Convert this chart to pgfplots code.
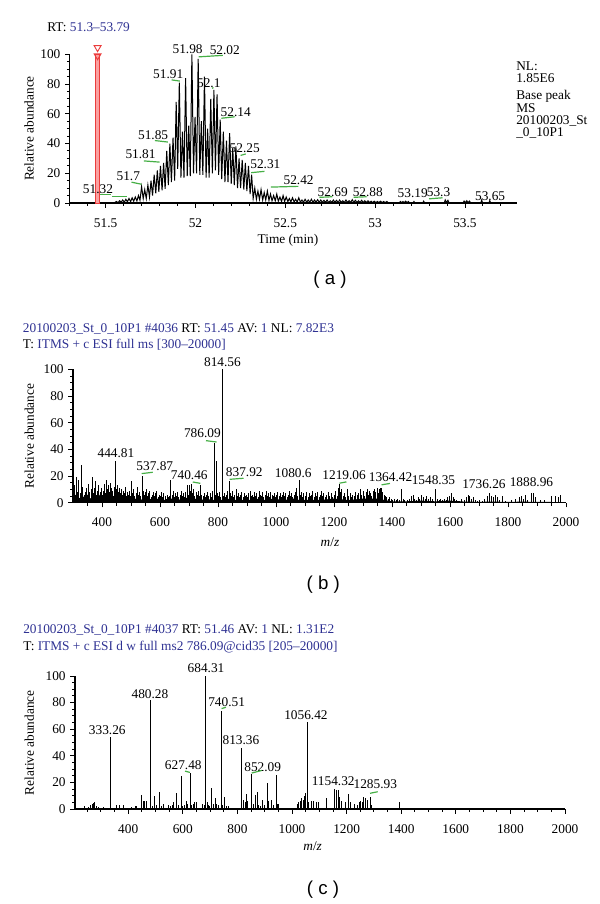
\documentclass[border=0pt]{standalone}
\usepackage{fontspec}
\setmainfont{Liberation Serif}
\newfontfamily\arialfont{Liberation Sans}
\usepackage{pgfplots}
\pgfplotsset{compat=1.18}
\definecolor{hdrblue}{RGB}{46,49,146}
\definecolor{lblgreen}{RGB}{70,175,70}
\definecolor{mkred}{RGB}{235,60,60}
\definecolor{mkpink}{RGB}{250,160,160}
\tikzset{glab/.style={lblgreen, line width=0.9pt}}
\pgfplotsset{msaxis/.style={scale only axis, axis x line=bottom, axis y line=left,
  axis line style={-, line width=0.9pt}, tick align=outside,
  major tick length=3.5pt, minor tick length=2.2pt,
  every tick/.style={black, line width=0.7pt},
  ymin=0, ymax=100, ytick={0,20,...,100}, minor ytick={5,10,...,95},
  tick label style={font=\fontsize{10}{12}\selectfont},
  xticklabel style={yshift=-4.5pt},
  /pgf/number format/assume math mode=true,
  /pgf/number format/1000 sep={},
  enlargelimits=false, clip=false,
  every node/.append style={font=\fontsize{10}{12}\selectfont}}}
\begin{document}
\begin{tikzpicture}
\path[use as bounding box] (0,0) rectangle (450pt,678pt);
% ---------------- panel (a) ----------------
\begin{axis}[msaxis, at={(52.3pt,525.75pt)}, anchor=south west,
  width=335.5pt, height=111.5pt, xmin=51.3, xmax=53.79,
  xtick={51.5,52,52.5,53,53.5},
  minor xtick={51.3,51.4,51.6,51.7,51.8,51.9,52.1,52.2,52.3,52.4,52.6,52.7,52.8,52.9,53.1,53.2,53.3,53.4,53.6,53.7},
  unbounded coords=jump]
\draw[mkred, fill=mkpink, line width=0.7pt] (axis cs:51.444,0) rectangle (axis cs:51.466,100);
\addplot[only marks, mark=triangle, mark size=3pt, mkred, mark options={rotate=180, fill=white, line width=0.7pt}] coordinates {(51.455,104.5) (51.455,99)};
\addplot[black, line width=0.75pt] coordinates {
(51.54,0) (51.55,0.3)
(51.560,1) (51.569,0.3) (51.5775,1.5) (51.586,0.5) (51.595,2) (51.604,0.6)
(51.6125,2.5) (51.621,0.8) (51.630,3) (51.639,1) (51.6475,3.5) (51.656,1.2)
(51.665,4) (51.674,1.4) (51.6825,5) (51.691,1.8) (51.700,11) (51.709,3)
(51.7175,9) (51.726,3) (51.735,12) (51.744,4) (51.7525,15) (51.761,5)
(51.770,19) (51.779,6.5) (51.7875,22) (51.796,7.5) (51.805,25) (51.814,8.5)
(51.8225,27) (51.831,9.5) (51.840,35) (51.849,12) (51.8575,40) (51.866,14)
(51.875,44) (51.884,15) (51.8925,68) (51.901,23) (51.910,81) (51.919,17)
(51.9275,48) (51.936,17) (51.945,84) (51.954,18) (51.9625,52) (51.971,18)
(51.980,100) (51.989,20) (51.9975,58) (52.006,20) (52.015,97) (52.024,19)
(52.0325,55) (52.041,19) (52.050,85) (52.059,17) (52.0675,50) (52.076,17)
(52.085,70) (52.094,20) (52.1025,76) (52.111,22) (52.120,73) (52.129,19)
(52.1375,56) (52.146,16) (52.155,48) (52.164,14) (52.1725,42) (52.181,14)
(52.190,47) (52.199,13) (52.2075,37) (52.216,12) (52.225,38) (52.234,10)
(52.2425,30) (52.251,10) (52.260,29) (52.269,9) (52.2775,27) (52.286,8)
(52.295,25) (52.304,6) (52.3125,19) (52.321,3) (52.330,10) (52.339,2.5)
(52.3475,8) (52.356,2.5) (52.365,9) (52.374,2) (52.3825,7) (52.391,2)
(52.400,8) (52.409,1.8) (52.4175,6) (52.426,1.5) (52.435,5) (52.444,1.5)
(52.4525,6) (52.461,1.2) (52.470,4) (52.479,1) (52.4875,5) (52.496,1)
(52.505,4) (52.514,1) (52.5225,3) (52.531,0.8)
(52.540,3.5) (52.549,0.7) (52.5575,2.5) (52.566,0.6) (52.575,3.5) (52.584,0.6)
(52.5925,2) (52.601,0.5) (52.610,2.5) (52.619,0.5) (52.6275,2) (52.636,0.5)
(52.645,2.5) (52.654,0.5) (52.6625,2) (52.671,0.5) (52.680,2.2) (52.689,0.5)
(52.6975,2) (52.706,0.5) (52.715,1.8) (52.724,0.4) (52.7325,2) (52.741,0.4)
(52.750,1.5) (52.759,0.4) (52.7675,2) (52.776,0.4) (52.785,1.8) (52.794,0.4)
(52.8025,2) (52.811,0.4) (52.820,1.5) (52.829,0.4) (52.8375,2) (52.846,0.4)
(52.855,1.5) (52.864,0.4) (52.8725,2.2) (52.881,0.4) (52.890,1.8) (52.899,0.4)
(52.9075,1.5) (52.916,0.4) (52.925,1.8) (52.934,0.3) (52.9425,1.5) (52.951,0.3)
(52.960,1.5) (52.969,0.3) (52.9775,1.2) (52.986,0.3) (52.995,1.2) (53.004,0.3)
(53.0125,1) (53.021,0.3) (53.030,1.2) (53.039,0.3) (53.0475,1) (53.056,0.2)
(53.065,1) (53.074,0) (53.1,nan)
(53.135,0) (53.14,1) (53.147,0.2) (53.155,1) (53.162,0.2) (53.17,1.2) (53.177,0.2) (53.185,1) (53.192,0) (53.2,nan)
(53.21,0) (53.216,1) (53.222,0) (53.24,nan)
(53.265,0) (53.27,1.2) (53.276,0) (53.3,nan)
(53.385,0) (53.39,2) (53.397,0.3) (53.405,1.8) (53.412,0) (53.45,nan)
(53.49,0) (53.495,1.3) (53.502,0.2) (53.51,1.5) (53.517,0.2) (53.525,1.3) (53.532,0) (53.56,nan)
(53.588,0) (53.593,2) (53.598,0) (53.62,nan)
(53.633,0) (53.638,1.5) (53.643,0)};
\node at (axis cs:51.457,9.2) {51.32};
\draw[glab] (axis cs:51.468,5.6) -- (axis cs:51.53,5.6) (axis cs:51.535,4.6) -- (axis cs:51.62,4.6);
\node at (axis cs:51.626,17.7) {51.7};
\draw[glab] (axis cs:51.644,14) -- (axis cs:51.70,12.6);
\node at (axis cs:51.694,32.7) {51.81};
\draw[glab] (axis cs:51.713,28.3) -- (axis cs:51.80,27.5);
\node at (axis cs:51.764,45.6) {51.85};
\draw[glab] (axis cs:51.774,42) -- (axis cs:51.846,41);
\node at (axis cs:51.848,86.6) {51.91};
\draw[glab] (axis cs:51.867,82.8) -- (axis cs:51.913,82);
\node at (axis cs:51.956,103.8) {51.98};
\node at (axis cs:52.163,102.7) {52.02};
\draw[glab] (axis cs:52.018,98.3) -- (axis cs:52.152,99.3);
\node at (axis cs:52.074,80.7) {52.1};
\draw[glab] (axis cs:52.092,77.2) -- (axis cs:52.1,77.6);
\node at (axis cs:52.224,60.9) {52.14};
\draw[glab] (axis cs:52.144,57) -- (axis cs:52.218,58);
\node at (axis cs:52.274,36.7) {52.25};
\draw[glab] (axis cs:52.251,32) -- (axis cs:52.28,33);
\node at (axis cs:52.389,26) {52.31};
\draw[glab] (axis cs:52.31,20.4) -- (axis cs:52.384,21.3);
\node at (axis cs:52.574,15.4) {52.42};
\draw[glab] (axis cs:52.42,10.7) -- (axis cs:52.572,11.2);
\node at (axis cs:52.764,7.6) {52.69};
\draw[glab] (axis cs:52.69,3.8) -- (axis cs:52.762,4.2);
\node at (axis cs:52.959,7.6) {52.88};
\draw[glab] (axis cs:52.88,3.8) -- (axis cs:52.953,4.2);
\node at (axis cs:53.209,6.5) {53.19};
\node at (axis cs:53.353,7.6) {53.3};
\draw[glab] (axis cs:53.30,2.8) -- (axis cs:53.375,3.5);
\node at (axis cs:53.64,4.9) {53.65};
\end{axis}
% ---------------- panel (b) ----------------
\begin{axis}[msaxis, at={(54.75pt,301pt)}, anchor=south west,
  width=369.75pt, height=100pt, xmin=300, xmax=2000,
  xtick={400,600,...,2000}, minor xtick={350,400,...,1950}]
\addplot[fill=black, draw=none] coordinates {
(300,0) (300,4) (310,6) (320,3) (330,5) (340,4) (350,6) (360,3) (370,5) (380,4) (390,6)
(400,3) (410,5) (420,6) (430,4) (440,5) (450,6) (460,4) (470,5) (480,3) (490,4)
(500,3) (510,4) (520,2) (530,3) (540,2) (550,3) (560,2) (570,3) (580,2) (590,3)
(600,2) (620,2) (640,3) (660,2) (680,3) (700,4) (720,3) (740,2) (760,3) (780,2)
(800,2) (820,2) (840,3) (860,2) (880,2) (900,2) (920,2) (940,3) (960,2) (980,3)
(1000,2) (1020,3) (1040,2) (1060,3) (1080,2) (1100,2) (1150,2) (1200,3) (1250,2)
(1300,3) (1350,3) (1400,1) (1450,1) (1500,1.5) (1550,1) (1600,1.5) (1650,0.8)
(1700,0.6) (1750,0.8) (1800,0.5) (1850,0.8) (1900,0.5) (1950,0.5) (1990,0.3) (1990,0)} \closedcycle;
\addplot[ycomb, black, line width=0.55pt] coordinates {
(302,10) (305,13) (308,6) (311,19) (314,8) (317,12) (320,17) (324,7) (328,28) (331,9)
(334,12) (338,6) (341,8) (345,11) (348,5) (352,14) (355,8) (358,6) (362,10) (366,19)
(369,7) (372,11) (376,16) (379,6) (383,9) (386,13) (390,5) (393,8) (397,11)
(401,6) (405,9) (408,14) (412,7) (416,17) (419,10) (423,13) (426,8) (430,15) (433,11)
(437,9) (441,12) (444.81,31) (448,10) (452,13) (455,8) (459,11) (462,7) (466,10) (470,6)
(473,9) (477,7) (480,12) (484,5) (487,8) (491,6) (495,9) (498,5)
(502,16) (505,7) (509,10) (513,5) (517,7) (521,12) (525,6) (529,8) (533,5) (537.87,20)
(541,9) (545,6) (549,8) (553,10) (557,5) (561,7) (565,9) (569,4) (573,6) (577,8)
(581,5) (585,7) (589,9) (593,4) (597,6)
(601,5) (605,8) (609,4) (613,7) (617,5) (621,3) (625,6) (629,4) (633,5) (637,17)
(641,6) (645,9) (649,4) (653,7) (657,5) (661,8) (665,4) (669,6) (673,9) (677,5)
(681,7) (685,4) (689,8) (693,13) (697,6) (700,13)
(704,9) (708,14) (712,7) (716,10) (720,5) (724,8) (728,6) (732,9) (736,5) (740.46,13)
(744,6) (748,5) (752,7) (756,4) (760,6) (764,8) (768,5) (772,7) (776,4) (780,9)
(786.09,45) (790,6) (793,31) (797,7) (801,5) (805,8) (809,4)
(814.56,100) (818,5) (822,7) (826,4) (830,6) (834,9) (837.92,16) (842,7) (846,5) (850,9)
(854,4) (858,6) (862,10) (866,5) (870,7) (874,4) (878,6) (882,8) (886,4) (890,7) (894,5) (898,6)
(902,4) (906,7) (910,9) (914,5) (918,6) (922,4) (926,8) (930,5) (934,7) (938,4)
(942,9) (946,6) (950,5) (954,8) (958,4) (962,6) (966,9) (970,5) (974,7) (978,4)
(982,8) (986,6) (990,5) (994,7) (998,4)
(1002,6) (1006,8) (1010,5) (1014,7) (1018,4) (1022,6) (1026,8) (1030,5) (1034,7) (1038,4)
(1042,6) (1046,9) (1050,5) (1054,7) (1058,4) (1062,6) (1066,8) (1070,11) (1074,5) (1080.6,17)
(1084,6) (1088,8) (1092,4) (1096,7)
(1100,5) (1105,8) (1110,4) (1114,7) (1118,5) (1122,6) (1127,9) (1131,4) (1135,7) (1140,5)
(1144,8) (1148,4) (1152,6) (1157,9) (1161,5) (1165,7) (1170,4) (1175,6) (1180,8) (1185,5)
(1190,7) (1195,4)
(1200,6) (1205,9) (1210,5) (1214,11) (1219.06,14) (1223,8) (1227,10) (1232,5) (1236,7) (1240,4)
(1245,10) (1250,5) (1255,7) (1260,4) (1265,6) (1270,5) (1275,8) (1280,6) (1285,7) (1290,10) (1295,6)
(1300,9) (1305,5) (1310,8) (1314,10) (1318,6) (1322,9) (1326,7) (1330,5) (1335,9) (1340,10)
(1344,8) (1348,11) (1352,7) (1356,10) (1360,11) (1364.42,11) (1368,8) (1372,6) (1377,5) (1382,4)
(1387,3) (1392,4) (1397,3)
(1402,2) (1408,3) (1414,2) (1420,3) (1426,2) (1432,10) (1438,3) (1444,2) (1452,2) (1460,3)
(1466,5) (1472,6) (1478,3) (1484,2) (1490,4) (1496,3)
(1502,6) (1508,4) (1514,3) (1520,5) (1526,3) (1532,4) (1538,3) (1548.35,10) (1555,3) (1562,2)
(1568,3) (1574,2) (1580,3) (1586,2) (1592,4) (1598,5)
(1604,7) (1610,4) (1616,3) (1622,2) (1632,1) (1640,3) (1648,2) (1656,4) (1662,6) (1668,5)
(1674,3) (1680,4) (1688,2) (1694,1)
(1702,2) (1712,1) (1720,3) (1730,5) (1736.26,7) (1742,5) (1750,4) (1756,6) (1762,4) (1770,2)
(1782,5) (1790,1)
(1812,2) (1825,3) (1838,4) (1845,5) (1852,3) (1860,6) (1868,2) (1880,7) (1888.96,7) (1895,4)
(1910,2) (1925,2) (1950,5) (1965,5) (1975,4) (1982,6)};
\node at (axis cs:815.5,105.7) {814.56};
\node at (axis cs:746,52) {786.09};
\draw[glab] (axis cs:758.6,46.5) -- (axis cs:795,45.5);
\node at (axis cs:448,37.5) {444.81};
\node at (axis cs:582,27.7) {537.87};
\draw[glab] (axis cs:537,21.8) -- (axis cs:575,22.8);
\node at (axis cs:701,20.3) {740.46};
\draw[glab] (axis cs:713,15.5) -- (axis cs:739,14.5);
\node at (axis cs:890.7,23.2) {837.92};
\draw[glab] (axis cs:840,17.5) -- (axis cs:888,18.3);
\node at (axis cs:1059.7,22) {1080.6};
\node at (axis cs:1235,20.8) {1219.06};
\draw[glab] (axis cs:1219,14.6) -- (axis cs:1243,15.6);
\node at (axis cs:1395,19) {1364.42};
\draw[glab] (axis cs:1364,13.4) -- (axis cs:1393,14.4);
\node at (axis cs:1543,17) {1548.35};
\node at (axis cs:1717,13.8) {1736.26};
\node at (axis cs:1881,15.7) {1888.96};
\end{axis}
% ---------------- panel (c) ----------------
\begin{axis}[msaxis, at={(56.25pt,71.25pt)}, anchor=south west,
  width=367.5pt, height=99.75pt, xmin=205, xmax=2000,
  xtick={400,600,...,2000}, minor xtick={250,300,...,1950}]
\addplot[ycomb, black, line width=0.6pt] coordinates {
(241,2) (255,1.5) (262,3) (267,4) (272,4.5) (276,5) (283,2) (290,1.5) (309,1.5)
(333.26,54) (347,1) (355,3) (367,3) (384,3) (390,1) (410,1.5) (425,2) (430,2.5) (440,1)
(449,10.5) (455,6.3) (458,6.3) (461,6.3) (465,6.3) (480.28,82) (489,2) (497,10) (505,3)
(514,13) (520,2) (530,4) (548,3) (553,2.5) (560,3) (566,5) (575,11.8) (578,6) (583,3)
(594,24.8) (600,2) (607,3) (612,6) (618,4) (627.48,26.8) (632,3) (638,4) (643,5) (648,5.5)
(650,5) (670,4) (678,3) (684.31,100) (690,5) (694,3) (698,2) (706,15.5) (712,4) (718,8.5)
(723,4) (730,3) (740.51,74) (745,3) (752,9.3) (760,2) (768,2) (813.36,46) (821,6.5) (828,5)
(832,11.3) (838,6) (852.09,26) (858,4) (865,10.5) (872,13) (878,3) (885,2) (891,7) (898,3)
(909,19.6) (915,6) (925,7) (933,3) (941,25.3) (945,4) (950,4)
(1020,4) (1025,5) (1030,6) (1035,8) (1040,7) (1045,10) (1050,12) (1056.42,65.5) (1060,5)
(1070,6) (1080,6) (1088,5) (1095,5) (1127,8) (1154.32,14.8) (1162,14) (1170,14.3) (1175,9)
(1180,6) (1195,5) (1206,11.3) (1215,5) (1228,4) (1240,3) (1245,5) (1252,6) (1258,5)
(1263,9) (1270,8) (1275,7) (1285.93,9.3) (1290,3) (1395,5.5)};
\node at (axis cs:684.9,105.8) {684.31};
\node at (axis cs:479.7,86.5) {480.28};
\node at (axis cs:323.4,59.4) {333.26};
\node at (axis cs:760.5,80.7) {740.51};
\draw[glab] (axis cs:742,75.5) -- (axis cs:758,76.5);
\node at (axis cs:813,51.4) {813.36};
\node at (axis cs:601.7,33) {627.48};
\draw[glab] (axis cs:608,28.5) -- (axis cs:626,27.5);
\node at (axis cs:892.5,31.8) {852.09};
\draw[glab] (axis cs:852,27) -- (axis cs:889,29);
\node at (axis cs:1051,70.7) {1056.42};
\node at (axis cs:1151,21) {1154.32};
\node at (axis cs:1305,18.6) {1285.93};
\draw[glab] (axis cs:1286,11.8) -- (axis cs:1314,13);
\end{axis}
% ---------------- outside texts ----------------
\begin{scope}[every node/.style={font=\fontsize{10}{12}\selectfont, inner sep=0pt}]
\node[anchor=west] at (35.25pt,657.75pt) {RT: \textcolor{hdrblue}{51.3--53.79}};
\node[anchor=west] at (387pt,628.5pt) {NL:};
\node[anchor=west] at (387pt,619pt) {1.85E6};
\node[anchor=west] at (387pt,605.5pt) {Base peak};
\node[anchor=west] at (387pt,596.8pt) {MS};
\node[anchor=west] at (387pt,587.5pt) {20100203\_St};
\node[anchor=west] at (387pt,578.5pt) {\_0\_10P1};
\node at (216pt,498pt) {Time (min)};
\node[rotate=90] at (21.75pt,581.6pt) {Relative abundance};
\node[anchor=west] at (17pt,431pt) {\textcolor{hdrblue}{20100203\_St\_0\_10P1 \#4036} RT: \textcolor{hdrblue}{51.45} AV: \textcolor{hdrblue}{1} NL: \textcolor{hdrblue}{7.82E3}};
\node[anchor=west] at (17pt,419.8pt) {T: \textcolor{hdrblue}{ITMS + c ESI full ms [300--20000]}};
\node[rotate=90] at (22pt,351pt) {Relative abundance};
\node at (247.5pt,271.5pt) {\textit{m}/\textit{z}};
\node[anchor=west] at (17.25pt,205.5pt) {\textcolor{hdrblue}{20100203\_St\_0\_10P1 \#4037} RT: \textcolor{hdrblue}{51.46} AV: \textcolor{hdrblue}{1} NL: \textcolor{hdrblue}{1.31E2}};
\node[anchor=west] at (17.25pt,193pt) {T: \textcolor{hdrblue}{ITMS + c ESI d w full ms2 786.09@cid35 [205--20000]}};
\node[rotate=90] at (22pt,121pt) {Relative abundance};
\node at (234.5pt,43.5pt) {\textit{m}/\textit{z}};
\end{scope}
\node[font=\arialfont\fontsize{14}{16}\selectfont] at (247.5pt,468pt) {( a )};
\node[font=\arialfont\fontsize{14}{16}\selectfont] at (242.5pt,239.25pt) {( b )};
\node[font=\arialfont\fontsize{14}{16}\selectfont] at (242.25pt,10.5pt) {( c )};
\end{tikzpicture}
\end{document}
